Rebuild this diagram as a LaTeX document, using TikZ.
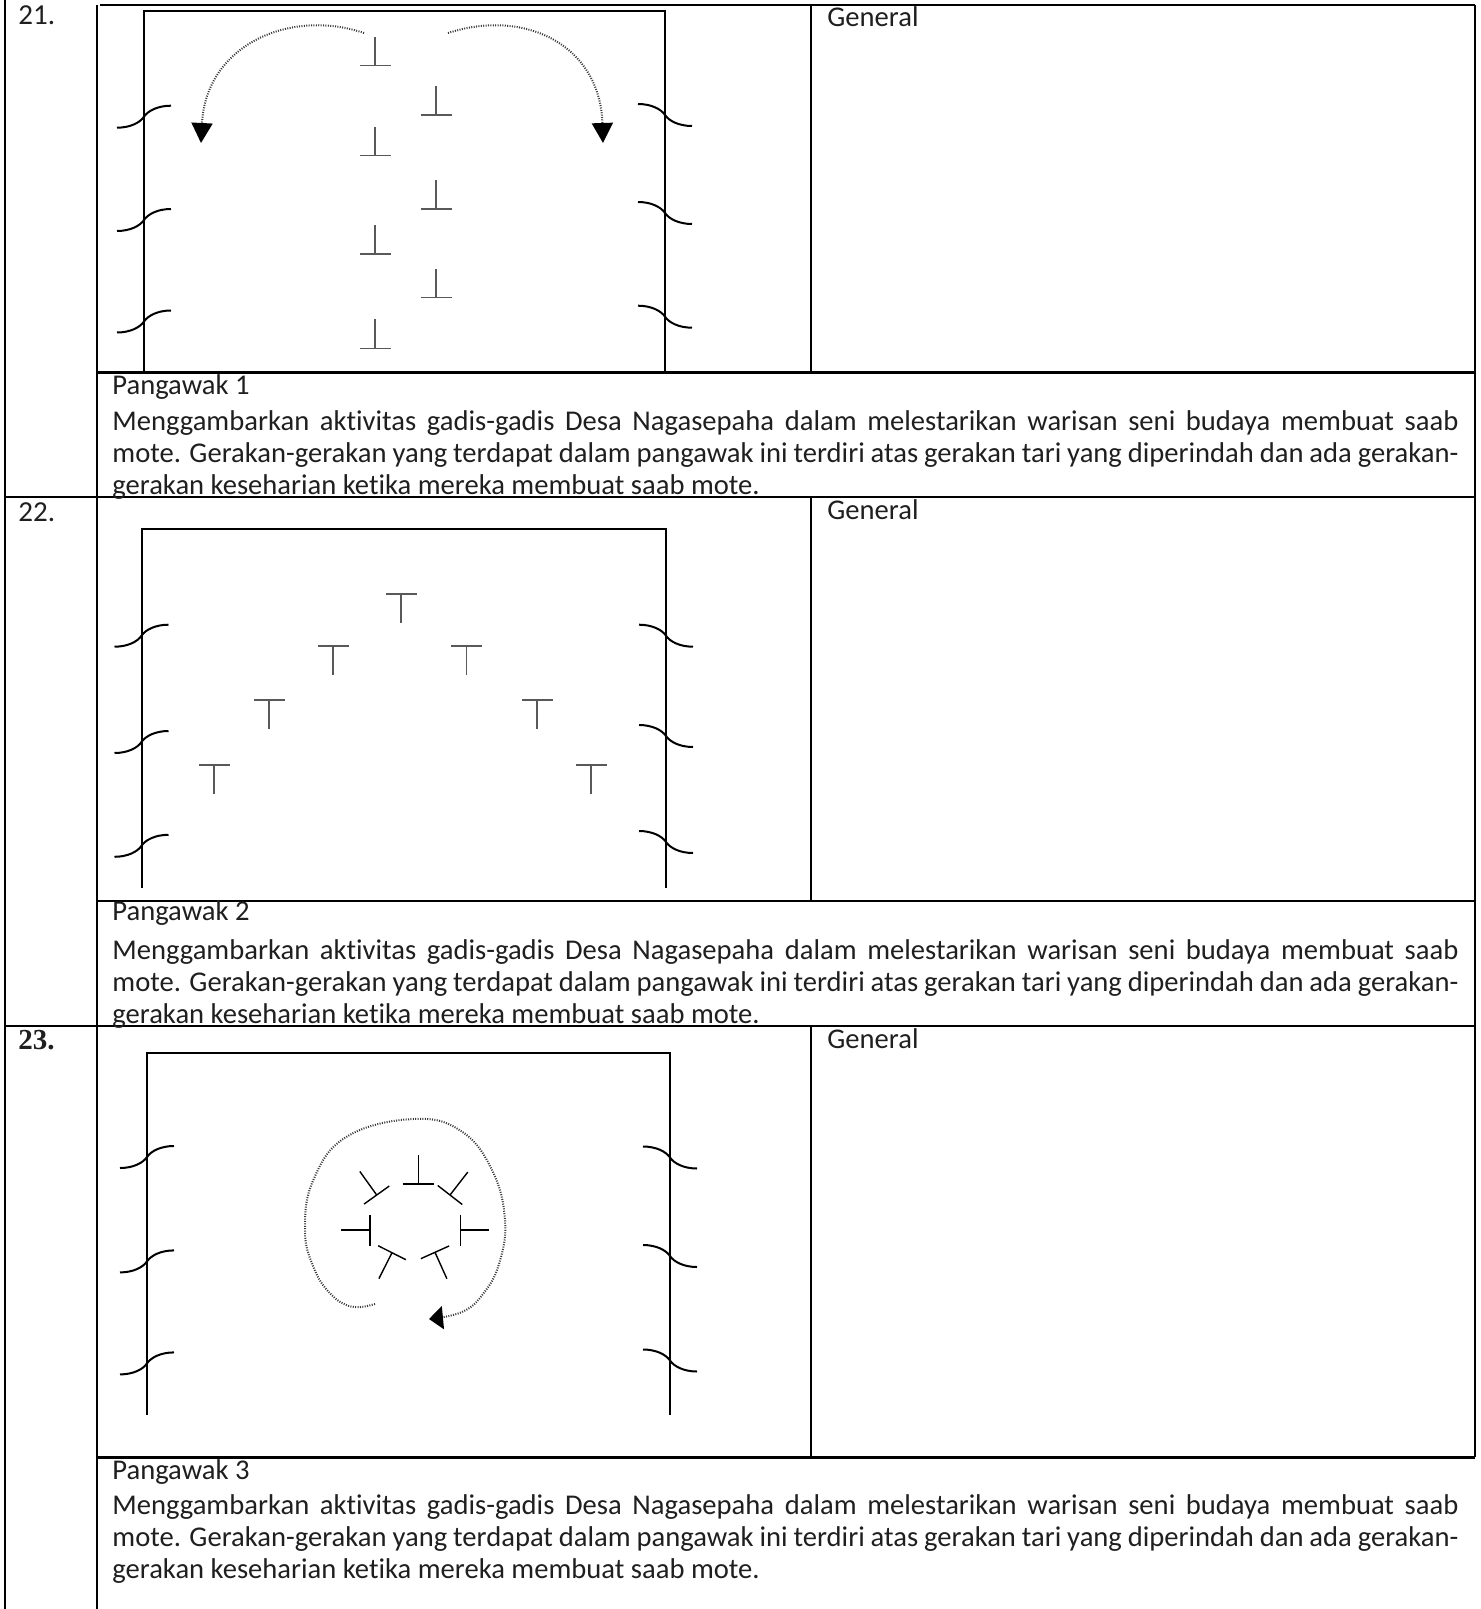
\documentclass[tikz,border=0pt]{standalone}
\usepackage{fontspec}
\setmainfont{Carlito}[Ligatures=NoCommon]
\newfontfamily\numserif{Liberation Serif}
\usetikzlibrary{arrows.meta}
\newcommand\txtA{Menggambarkan aktivitas gadis-gadis Desa Nagasepaha dalam melestarikan warisan seni budaya membuat saab}
\newcommand\txtB{mote. Gerakan-gerakan yang terdapat dalam pangawak ini terdiri atas gerakan tari yang diperindah dan ada gerakan-}
\newcommand\txtC{gerakan keseharian ketika mereka membuat saab mote.}
\begin{document}
\begin{tikzpicture}[x=0.5pt,y=-0.5pt,
  hline/.style={line width=1.25pt},
  vline/.style={line width=1.1pt},
  frameline/.style={line width=1pt},
  curt/.style={line width=1pt},
  dotpath/.style={draw=black!78,line width=1pt,dash pattern=on 0.5pt off 0.7pt},
  body/.style={font=\fontsize{14.3}{16}\selectfont,anchor=base west,inner sep=0pt,text=black!88},
  numtext/.style={font=\fontsize{14.5}{16}\selectfont,anchor=base west,inner sep=0pt,text=black!88},
  curtainL/.pic={\draw[curt] (-27,11) .. controls (-14,11) and (-4,6) .. (0,0) .. controls (4,-6) and (14,-11) .. (27,-11);},
  curtainR/.pic={\draw[curt] (-27,-11) .. controls (-14,-11) and (-4,-6) .. (0,0) .. controls (4,6) and (14,11) .. (27,11);},
  dancer/.pic={\draw (-15.5,0) -- (15.5,0) (0,0) -- (0,-29);},
  grayd/.style={color=black!65,line width=0.75pt},
  blackd/.style={color=black,line width=0.7pt}
]
\useasboundingbox (0,0) rectangle (1480,1609);

% ---------- table lines ----------
\draw[hline] (100,5) -- (1475,5);
\draw[hline] (97,372.7) -- (1475,372.7);
\draw[hline] (5,497) -- (1475,497);
\draw[hline] (97,901) -- (1475,901);
\draw[hline] (5,1026) -- (1475,1026);
\draw[hline] (97,1457.3) -- (1475,1457.3);
\draw[vline] (5,0) -- (5,1609);
\draw[vline] (97,5) -- (97,1609);
\draw[vline] (811,5) -- (811,372.7);
\draw[vline] (811,497) -- (811,901);
\draw[vline] (811,1026) -- (811,1457.3);
\draw[vline] (1475,5) -- (1475,1457.3);

% ---------- numbers and General ----------
\node[numtext] (n21) at (18,25) {21.};
\node[numtext] (n22) at (18,521) {22.};
\node[numtext,font=\numserif\bfseries\fontsize{14.5}{16}\selectfont] (n23) at (18,1049) {23.};
\node[body] (g21) at (827,27) {General};
\node[body] (g22) at (827,519) {General};
\node[body] (g23) at (827,1048) {General};

% ---------- paragraphs ----------
\node[body] (p21h) at (112,395) {Pangawak 1};
\node[body] (p21a) at (112,430) {\makebox[673pt][s]{\txtA}};
\node[body] (p21b) at (112,462) {\makebox[673pt][s]{\txtB}};
\node[body] (p21c) at (112,494) {\txtC};

\node[body] (p22h) at (112,920) {Pangawak 2};
\node[body] (p22a) at (112,959) {\makebox[673pt][s]{\txtA}};
\node[body] (p22b) at (112,991) {\makebox[673pt][s]{\txtB}};
\node[body] (p22c) at (112,1023) {\txtC};

\node[body] (p23h) at (112,1479) {Pangawak 3};
\node[body] (p23a) at (112,1514) {\makebox[673pt][s]{\txtA}};
\node[body] (p23b) at (112,1546) {\makebox[673pt][s]{\txtB}};
\node[body] (p23c) at (112,1578) {\txtC};

% ---------- figure 21 ----------
\draw[frameline] (144,372.7) -- (144,11) -- (665,11) -- (665,372.7);
\pic at (144,116.7) {curtainL};
\pic at (144,220) {curtainL};
\pic at (144,321.5) {curtainL};
\pic at (665,115) {curtainR};
\pic at (665,213) {curtainR};
\pic at (665,316.7) {curtainR};
\foreach \yy in {65.7,155.7,254,348.3} \pic[grayd] at (375,\yy) {dancer};
\foreach \yy in {115,209,297.7} \pic[grayd] at (436,\yy) {dancer};
\draw[dotpath,-{Triangle[width=10.5pt,length=10pt,color=black]}] (364,33) .. controls (290,8) and (206,45) .. (201,143);
\draw[dotpath,-{Triangle[width=10.5pt,length=10pt,color=black]}] (448,33) .. controls (525,8) and (600,45) .. (603,143);

% ---------- figure 22 ----------
\draw[frameline] (141.5,888) -- (141.5,529) -- (666,529) -- (666,888);
\pic at (141.5,635.7) {curtainL};
\pic at (141.5,742) {curtainL};
\pic at (141.5,845.8) {curtainL};
\pic at (666,635.7) {curtainR};
\pic at (666,736) {curtainR};
\pic at (666,842) {curtainR};
\foreach \xx/\yy in {401/594, 333/646, 466.5/646, 269/700, 537/700, 214/765, 591/765}
  \pic[grayd,rotate=180] at (\xx,\yy) {dancer};

% ---------- figure 23 ----------
\draw[frameline] (147,1415) -- (147,1052.5) -- (670,1052.5) -- (670,1415);
\pic at (147,1157) {curtainL};
\pic at (147,1261.4) {curtainL};
\pic at (147,1363.4) {curtainL};
\pic at (670,1157.5) {curtainR};
\pic at (670,1256) {curtainR};
\pic at (670,1360.5) {curtainR};
\pic[blackd] at (418.3,1184) {dancer};
\pic[blackd,rotate=90] at (370,1230) {dancer};
\pic[blackd,rotate=-90] at (460.3,1230) {dancer};
\pic[blackd,rotate=35.6] at (376.7,1195) {dancer};
\pic[blackd,rotate=-37.8] at (450,1195) {dancer};
\pic[blackd,rotate=153.2] at (392,1252.7) {dancer};
\pic[blackd,rotate=-155.8] at (435,1252.3) {dancer};
\draw[dotpath,-{Triangle[width=11.5pt,length=7pt,color=black]}] plot[smooth,tension=0.7] coordinates {(375,1304) (351.7,1306.7) (330,1293.3) (313.3,1266.7) (305,1230) (313.3,1180) (346.7,1136.7) (413.3,1119) (461,1131) (492,1170) (505,1220) (499,1264) (483,1294) (462,1312) (429,1319)};
\end{tikzpicture}
\end{document}
